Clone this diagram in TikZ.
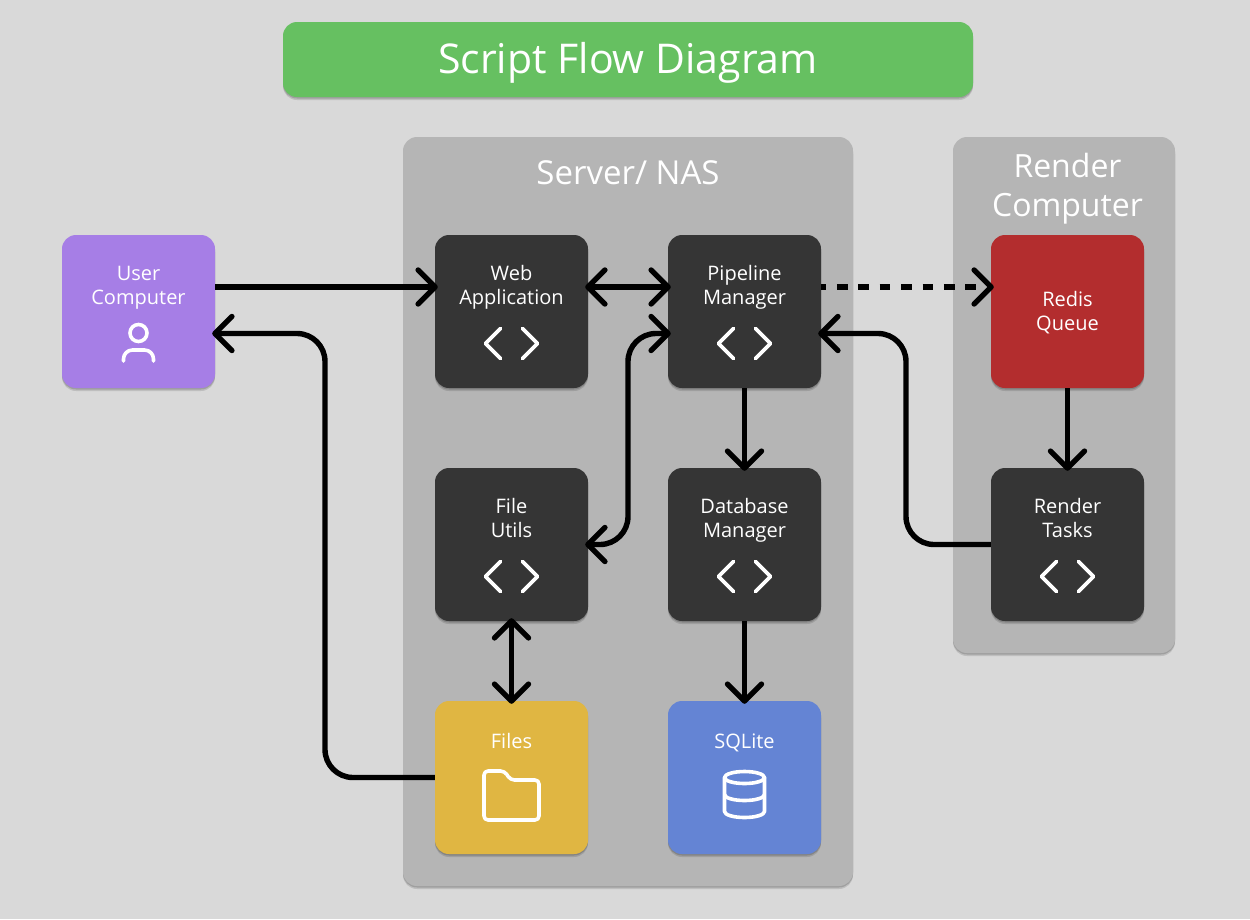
\documentclass[tikz,border=0pt]{standalone}
\usepackage{fontspec}
\setmainfont{Open Sans}
\usetikzlibrary{arrows.meta,shadows}
\definecolor{bg-grey}{HTML}{D9D9D9}
\definecolor{panel-grey}{HTML}{B5B5B5}
\definecolor{box-dark}{HTML}{353535}
\definecolor{box-green}{HTML}{66C061}
\definecolor{box-purple}{HTML}{A67EE6}
\definecolor{box-red}{HTML}{B32D2E}
\definecolor{box-yellow}{HTML}{E0B642}
\definecolor{box-blue}{HTML}{6484D4}
\tikzset{
	softshadow/.style={
		drop shadow={shadow xshift=0pt,shadow yshift=-1.5pt,opacity=.16,fill=black},
		drop shadow={shadow xshift=0pt,shadow yshift=-3pt,opacity=.12,fill=black}},
	card/.style={softshadow,rounded corners=14pt,minimum width=153pt,minimum height=153pt,inner sep=0pt,fill=box-dark},
	panel/.style={softshadow,rounded corners=14pt,inner sep=0pt,fill=panel-grey},
	cardtext/.style={text=white,align=center,font=\fontsize{20}{24}\selectfont},
	paneltext/.style={text=white,align=center,font=\fontsize{32}{39}\selectfont},
	flow/.style={line width=5.4pt,shorten >=-3pt,-{Straight Barb[length=17pt,width=34pt,round]}},
	twoway/.style={line width=5.4pt,shorten >=-3pt,shorten <=-3pt,{Straight Barb[length=17pt,width=34pt,round]}-{Straight Barb[length=17pt,width=34pt,round]}},
	icon/.style={draw=white,line width=3.6pt,line cap=round,line join=round},
	codeicon/.pic={
		\draw[icon] (-11,-15) -- (-26,0) -- (-11,15);
		\draw[icon] (11,-15) -- (26,0) -- (11,15);
	},
	usericon/.pic={
		\draw[icon] (0,-15) circle[radius=8.5pt];
		\draw[icon,rounded corners=9pt] (-15,13) -- (-15,2) -- (15,2) -- (15,13);
	},
	foldericon/.pic={
		\draw[icon,rounded corners=4pt] (-27.5,-25) -- (-7,-25) -- (-1,-16) -- (27.5,-16) -- (27.5,24) -- (-27.5,24) -- cycle;
	},
	dbicon/.pic={
		\draw[icon] (0,-18) ellipse[x radius=20pt,y radius=6pt];
		\draw[icon] (-20,-18) -- (-20,16) arc[start angle=180,end angle=360,x radius=20pt,y radius=6pt] -- (20,-18);
		\draw[icon] (-20,-1) arc[start angle=180,end angle=360,x radius=20pt,y radius=6pt];
	},
}

\begin{document}
\begin{tikzpicture}[x=1pt,y=-1pt]
\useasboundingbox (0,0) rectangle (1250,919);
\fill[bg-grey] (0,0) rectangle (1250,919);

% title and panels
\node[panel,fill=box-green,minimum width=690pt,minimum height=75pt] (title) at (628,59.5) {};
\node[text=white,font=\fontsize{41}{47}\selectfont] (titletext) at (628,63) {Script Flow Diagram};
\node[panel,minimum width=450pt,minimum height=749pt] (server) at (628,511.5) {};
\node[paneltext,font=\fontsize{33}{39}\selectfont] (servertext) at (628,173) {Server/ NAS};
\node[panel,minimum width=222pt,minimum height=516pt] (render) at (1064,395) {};
\node[paneltext] (rendertext) at (1067.5,188.5) {Render\\Computer};

% boxes
\node[card,fill=box-purple] (user) at (138.5,311.5) {};
\node[card] (web) at (511.5,311.5) {};
\node[card] (pipe) at (744.5,311.5) {};
\node[card,fill=box-red] (redis) at (1067.5,311.5) {};
\node[card] (file) at (511.5,544.5) {};
\node[card] (db) at (744.5,544.5) {};
\node[card] (tasks) at (1067.5,544.5) {};
\node[card,fill=box-yellow] (files) at (511.5,777.5) {};
\node[card,fill=box-blue] (sqlite) at (744.5,777.5) {};

\node[cardtext] (usertext) at (138.5,288) {User\\Computer};
\node[cardtext] (webtext) at (511.5,287.5) {Web\\Application};
\node[cardtext] (pipetext) at (744.5,287.5) {Pipeline\\Manager};
\node[cardtext] (redistext) at (1067.5,313) {Redis\\Queue};
\node[cardtext] (filetext) at (511.5,518) {File\\Utils};
\node[cardtext] (dbtext) at (744.5,520) {Database\\Manager};
\node[cardtext] (taskstext) at (1067.5,518) {Render\\Tasks};
\node[cardtext] (filestext) at (511.5,741) {Files};
\node[cardtext] (sqlitetext) at (744.5,743) {SQLite};

% icons
\pic at (138.5,348) {usericon};
\pic at (511.5,343.5) {codeicon};
\pic at (744.5,343.5) {codeicon};
\pic at (511.5,576.5) {codeicon};
\pic at (744.5,576.5) {codeicon};
\pic at (1067.5,576.5) {codeicon};
\pic at (511.5,796) {foldericon};
\pic at (744.5,795.5) {dbicon};

% connectors
\coordinate (leftbus) at (325,777.5);
\coordinate (midbus) at (628,544.5);
\coordinate (rightbus) at (906,544.5);
\draw[flow] ([yshift=24.5pt]user.east) -- ([yshift=24.5pt]web.west);
\draw[twoway] ([yshift=24.5pt]web.east) -- ([yshift=24.5pt]pipe.west);
\draw[flow,dash pattern=on 10.7pt off 10.7pt,dash phase=5.7pt] ([yshift=24.5pt]pipe.east) -- ([yshift=24.5pt]redis.west);
\draw[flow] (pipe.south) -- (db.north);
\draw[flow] (db.south) -- (sqlite.north);
\draw[flow] (redis.south) -- (tasks.north);
\draw[twoway] (file.south) -- (files.north);
\draw[flow,rounded corners=28pt] (files.west) -- (leftbus) |- ([yshift=-22pt]user.east);
\draw[twoway,rounded corners=28pt] (file.east) -- (midbus) |- ([yshift=-22pt]pipe.west);
\draw[flow,rounded corners=28pt] (tasks.west) -- (rightbus) |- ([yshift=-22pt]pipe.east);
\end{tikzpicture}
\end{document}
